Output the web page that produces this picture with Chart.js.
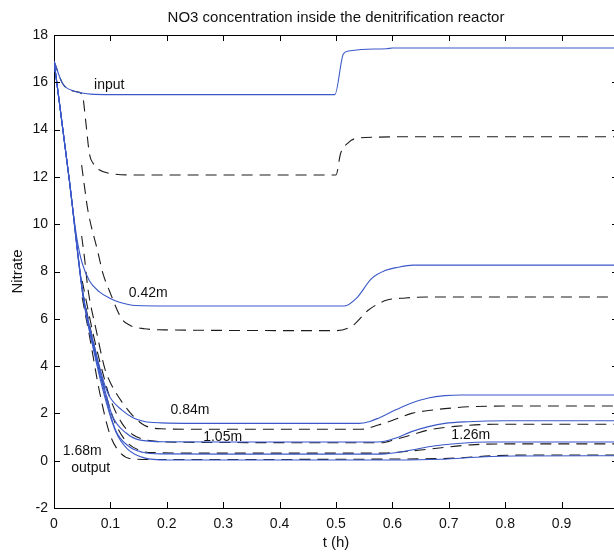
<!DOCTYPE html>
<html>
<head>
<meta charset="utf-8">
<title>NO3 concentration</title>
<script src="https://cdn.jsdelivr.net/npm/chart.js@4.4.1/dist/chart.umd.min.js"></script>
<style>
    html, body { margin: 0; padding: 0; background: #fff; overflow: hidden; }
    canvas { display: block; }
</style>
</head>
<body>
<canvas id="nitrateChart" width="630" height="555"></canvas>
<script>
// Series as [t (h), nitrate] pairs
// solid blue lines
const inputLine = [[0, 16.9], [0.015, 15.96], [0.036, 15.62], [0.05, 15.55], [0.065, 15.5], [0.1, 15.48], [0.498, 15.48], [0.513, 17.2], [0.522, 17.32], [0.545, 17.39], [0.59, 17.42], [0.6, 17.45], [1, 17.45]];
const line042 = [[0, 16.9], [0.027, 11.9], [0.036, 10.15], [0.042, 9.2], [0.05, 8.35], [0.063, 7.6], [0.08, 7.15], [0.098, 6.88], [0.116, 6.7], [0.145, 6.56], [0.2, 6.54], [0.515, 6.54], [0.536, 6.86], [0.563, 7.7], [0.587, 8.04], [0.61, 8.18], [0.637, 8.27], [1, 8.27]];
const line084 = [[0, 16.9], [0.027, 11.9], [0.052, 7.0], [0.07, 5.0], [0.09, 3.2], [0.1, 2.65], [0.12, 2.15], [0.14, 1.82], [0.16, 1.66], [0.19, 1.6], [0.25, 1.58], [0.54, 1.58], [0.56, 1.66], [0.575, 1.8], [0.605, 2.14], [0.634, 2.44], [0.664, 2.65], [0.693, 2.75], [0.722, 2.78], [1, 2.78]];
const line105 = [[0, 16.9], [0.027, 11.9], [0.052, 6.95], [0.07, 4.9], [0.09, 3.0], [0.104, 1.87], [0.128, 1.17], [0.151, 0.88], [0.198, 0.8], [0.3, 0.79], [0.575, 0.79], [0.605, 0.95], [0.634, 1.23], [0.664, 1.44], [0.693, 1.58], [0.734, 1.65], [0.8, 1.69], [1, 1.69]];
const line126 = [[0, 16.9], [0.027, 11.9], [0.052, 6.9], [0.07, 4.8], [0.09, 2.85], [0.109, 1.3], [0.133, 0.6], [0.157, 0.36], [0.19, 0.29], [0.3, 0.28], [0.58, 0.28], [0.634, 0.45], [0.664, 0.59], [0.722, 0.74], [0.77, 0.79], [1, 0.79]];
const line168 = [[0, 16.9], [0.027, 11.9], [0.052, 6.85], [0.07, 4.7], [0.09, 2.7], [0.11, 1.2], [0.13, 0.5], [0.16, 0.12], [0.2, 0.03], [0.6, 0.03], [0.686, 0.06], [0.764, 0.17], [0.817, 0.2], [1, 0.21]];
// dashed black lines
const dash021 = [[0, 16.9], [0.015, 15.96], [0.036, 15.62], [0.05, 15.5], [0.056, 14.4], [0.063, 12.95], [0.07, 12.55], [0.08, 12.3], [0.1, 12.14], [0.15, 12.08], [0.5, 12.08], [0.508, 12.98], [0.522, 13.45], [0.534, 13.62], [0.57, 13.68], [0.65, 13.7], [1, 13.7]];
const dash063 = [[0.049, 12.5], [0.054, 11.6], [0.06, 10.6], [0.077, 8.9], [0.087, 7.9], [0.098, 7.2], [0.12, 6.0], [0.135, 5.72], [0.16, 5.58], [0.2, 5.53], [0.5, 5.5], [0.53, 5.72], [0.557, 6.36], [0.589, 6.78], [0.623, 6.88], [0.66, 6.92], [1, 6.92]];
const dash084 = [[0.049, 9.5], [0.054, 8.6], [0.06, 7.3], [0.075, 5.5], [0.09, 3.9], [0.1, 3.3], [0.12, 2.5], [0.14, 1.9], [0.16, 1.5], [0.19, 1.35], [0.25, 1.33], [0.545, 1.33], [0.575, 1.51], [0.605, 1.75], [0.634, 2.0], [0.664, 2.12], [0.693, 2.2], [0.734, 2.28], [0.8, 2.31], [1, 2.31]];
const dash105 = [[0.05, 7.6], [0.07, 5.3], [0.09, 3.4], [0.1, 2.6], [0.12, 1.6], [0.14, 1.1], [0.17, 0.85], [0.22, 0.78], [0.58, 0.76], [0.605, 0.9], [0.634, 1.09], [0.664, 1.3], [0.711, 1.45], [0.78, 1.54], [1, 1.54]];
const dash147 = [[0.05, 7.2], [0.07, 5.0], [0.09, 3.0], [0.105, 1.8], [0.125, 0.9], [0.15, 0.45], [0.18, 0.34], [0.25, 0.32], [0.585, 0.32], [0.61, 0.36], [0.669, 0.5], [0.74, 0.67], [0.8, 0.71], [1, 0.71]];
const dash168 = [[0.05, 6.9], [0.065, 5.0], [0.08, 3.0], [0.098, 1.2], [0.115, 0.4], [0.14, 0.07], [0.2, 0.05], [0.6, 0.07], [0.7, 0.1], [0.78, 0.21], [0.85, 0.24], [1, 0.24]];

// text labels placed next to the curves: [text, t, nitrate]
const curveLabels = [
    ['input', 0.098, 15.9],
    ['0.42m', 0.167, 7.1],
    ['0.84m', 0.241, 2.15],
    ['1.05m', 0.299, 1.0],
    ['1.26m', 0.739, 1.09],
    ['1.68m', 0.05, 0.41],
    ['output', 0.065, -0.3]
];

const tickX = [0, 0.1, 0.2, 0.3, 0.4, 0.5, 0.6, 0.7, 0.8, 0.9, 1];
const tickY = [-2, 0, 2, 4, 6, 8, 10, 12, 14, 16, 18];

const AZUL = 'rgb(58, 88, 200)';
const NEGRO = '#1c1c1c';
const FUENTE = '"Liberation Sans", Arial, Helvetica, sans-serif';

function serie(puntos, solida) {
    return {
        data: puntos.map(p => ({ x: p[0], y: p[1] })),
        borderColor: solida ? AZUL : NEGRO,
        borderDash: solida ? [] : [11, 7],
        borderWidth: 1.1,
        pointRadius: 0,
        fill: false,
        cubicInterpolationMode: 'monotone'
    };
}

// marco, ticks hacia dentro y textos estilo matlab
const marcoPlugin = {
    id: 'marco',
    afterDraw(chart) {
        const ctx = chart.ctx;
        const a = chart.chartArea;
        const sx = chart.scales.x, sy = chart.scales.y;
        const largo = 6;
        ctx.save();
        ctx.strokeStyle = '#000';
        ctx.lineWidth = 1;
        ctx.beginPath();
        ctx.moveTo(a.left, a.top + 0.5);
        ctx.lineTo(a.right, a.top + 0.5);
        ctx.moveTo(a.right + 0.5, a.top);
        ctx.lineTo(a.right + 0.5, a.bottom);
        tickX.forEach(v => {
            const px = Math.round(sx.getPixelForValue(v)) + 0.5;
            ctx.moveTo(px, a.bottom);
            ctx.lineTo(px, a.bottom - largo);
            ctx.moveTo(px, a.top);
            ctx.lineTo(px, a.top + largo);
        });
        tickY.forEach(v => {
            const py = Math.round(sy.getPixelForValue(v)) + 0.5;
            ctx.moveTo(a.left, py);
            ctx.lineTo(a.left + largo, py);
            ctx.moveTo(a.right, py);
            ctx.lineTo(a.right - largo, py);
        });
        ctx.stroke();

        ctx.fillStyle = '#111';
        ctx.textAlign = 'center';
        ctx.textBaseline = 'middle';
        ctx.font = '14px ' + FUENTE;
        curveLabels.forEach(([txt, t, v]) => {
            ctx.fillText(txt, sx.getPixelForValue(t), sy.getPixelForValue(v));
        });

        ctx.font = '15px ' + FUENTE;
        ctx.fillText('NO3 concentration inside the denitrification reactor', (a.left + a.right) / 2, 18);
        ctx.fillText('t (h)', (a.left + a.right) / 2, 543);
        ctx.translate(18, (a.top + a.bottom) / 2);
        ctx.rotate(-Math.PI / 2);
        ctx.fillText('Nitrate', 0, 0);
        ctx.restore();
    }
};

new Chart(document.getElementById('nitrateChart').getContext('2d'), {
    type: 'line',
    data: {
        datasets: [
            serie(inputLine, true),
            serie(line042, true),
            serie(line084, true),
            serie(line105, true),
            serie(line126, true),
            serie(line168, true),
            serie(dash021, false),
            serie(dash063, false),
            serie(dash084, false),
            serie(dash105, false),
            serie(dash147, false),
            serie(dash168, false)
        ]
    },
    options: {
        responsive: false,
        animation: false,
        devicePixelRatio: 1,
        layout: { padding: { top: 35, right: 12, left: 0, bottom: 0 } },
        plugins: {
            legend: { display: false },
            tooltip: { enabled: false },
            title: { display: false }
        },
        scales: {
            x: {
                type: 'linear',
                min: 0,
                max: 1,
                afterFit: s => { s.height = 47; },
                afterBuildTicks: s => { s.ticks = tickX.map(v => ({ value: v })); },
                ticks: {
                    font: { size: 14, family: FUENTE },
                    color: '#111',
                    padding: 8,
                    maxRotation: 0,
                    callback: v => String(Math.round(v * 10) / 10)
                },
                grid: { drawOnChartArea: false, drawTicks: false },
                border: { display: true, color: '#000', width: 1 }
            },
            y: {
                type: 'linear',
                min: -2,
                max: 18,
                afterFit: s => { s.width = 54; },
                afterBuildTicks: s => { s.ticks = tickY.map(v => ({ value: v })); },
                ticks: {
                    font: { size: 14, family: FUENTE },
                    color: '#111',
                    padding: 6
                },
                grid: { drawOnChartArea: false, drawTicks: false },
                border: { display: true, color: '#000', width: 1 }
            }
        }
    },
    plugins: [marcoPlugin]
});
</script>
</body>
</html>
